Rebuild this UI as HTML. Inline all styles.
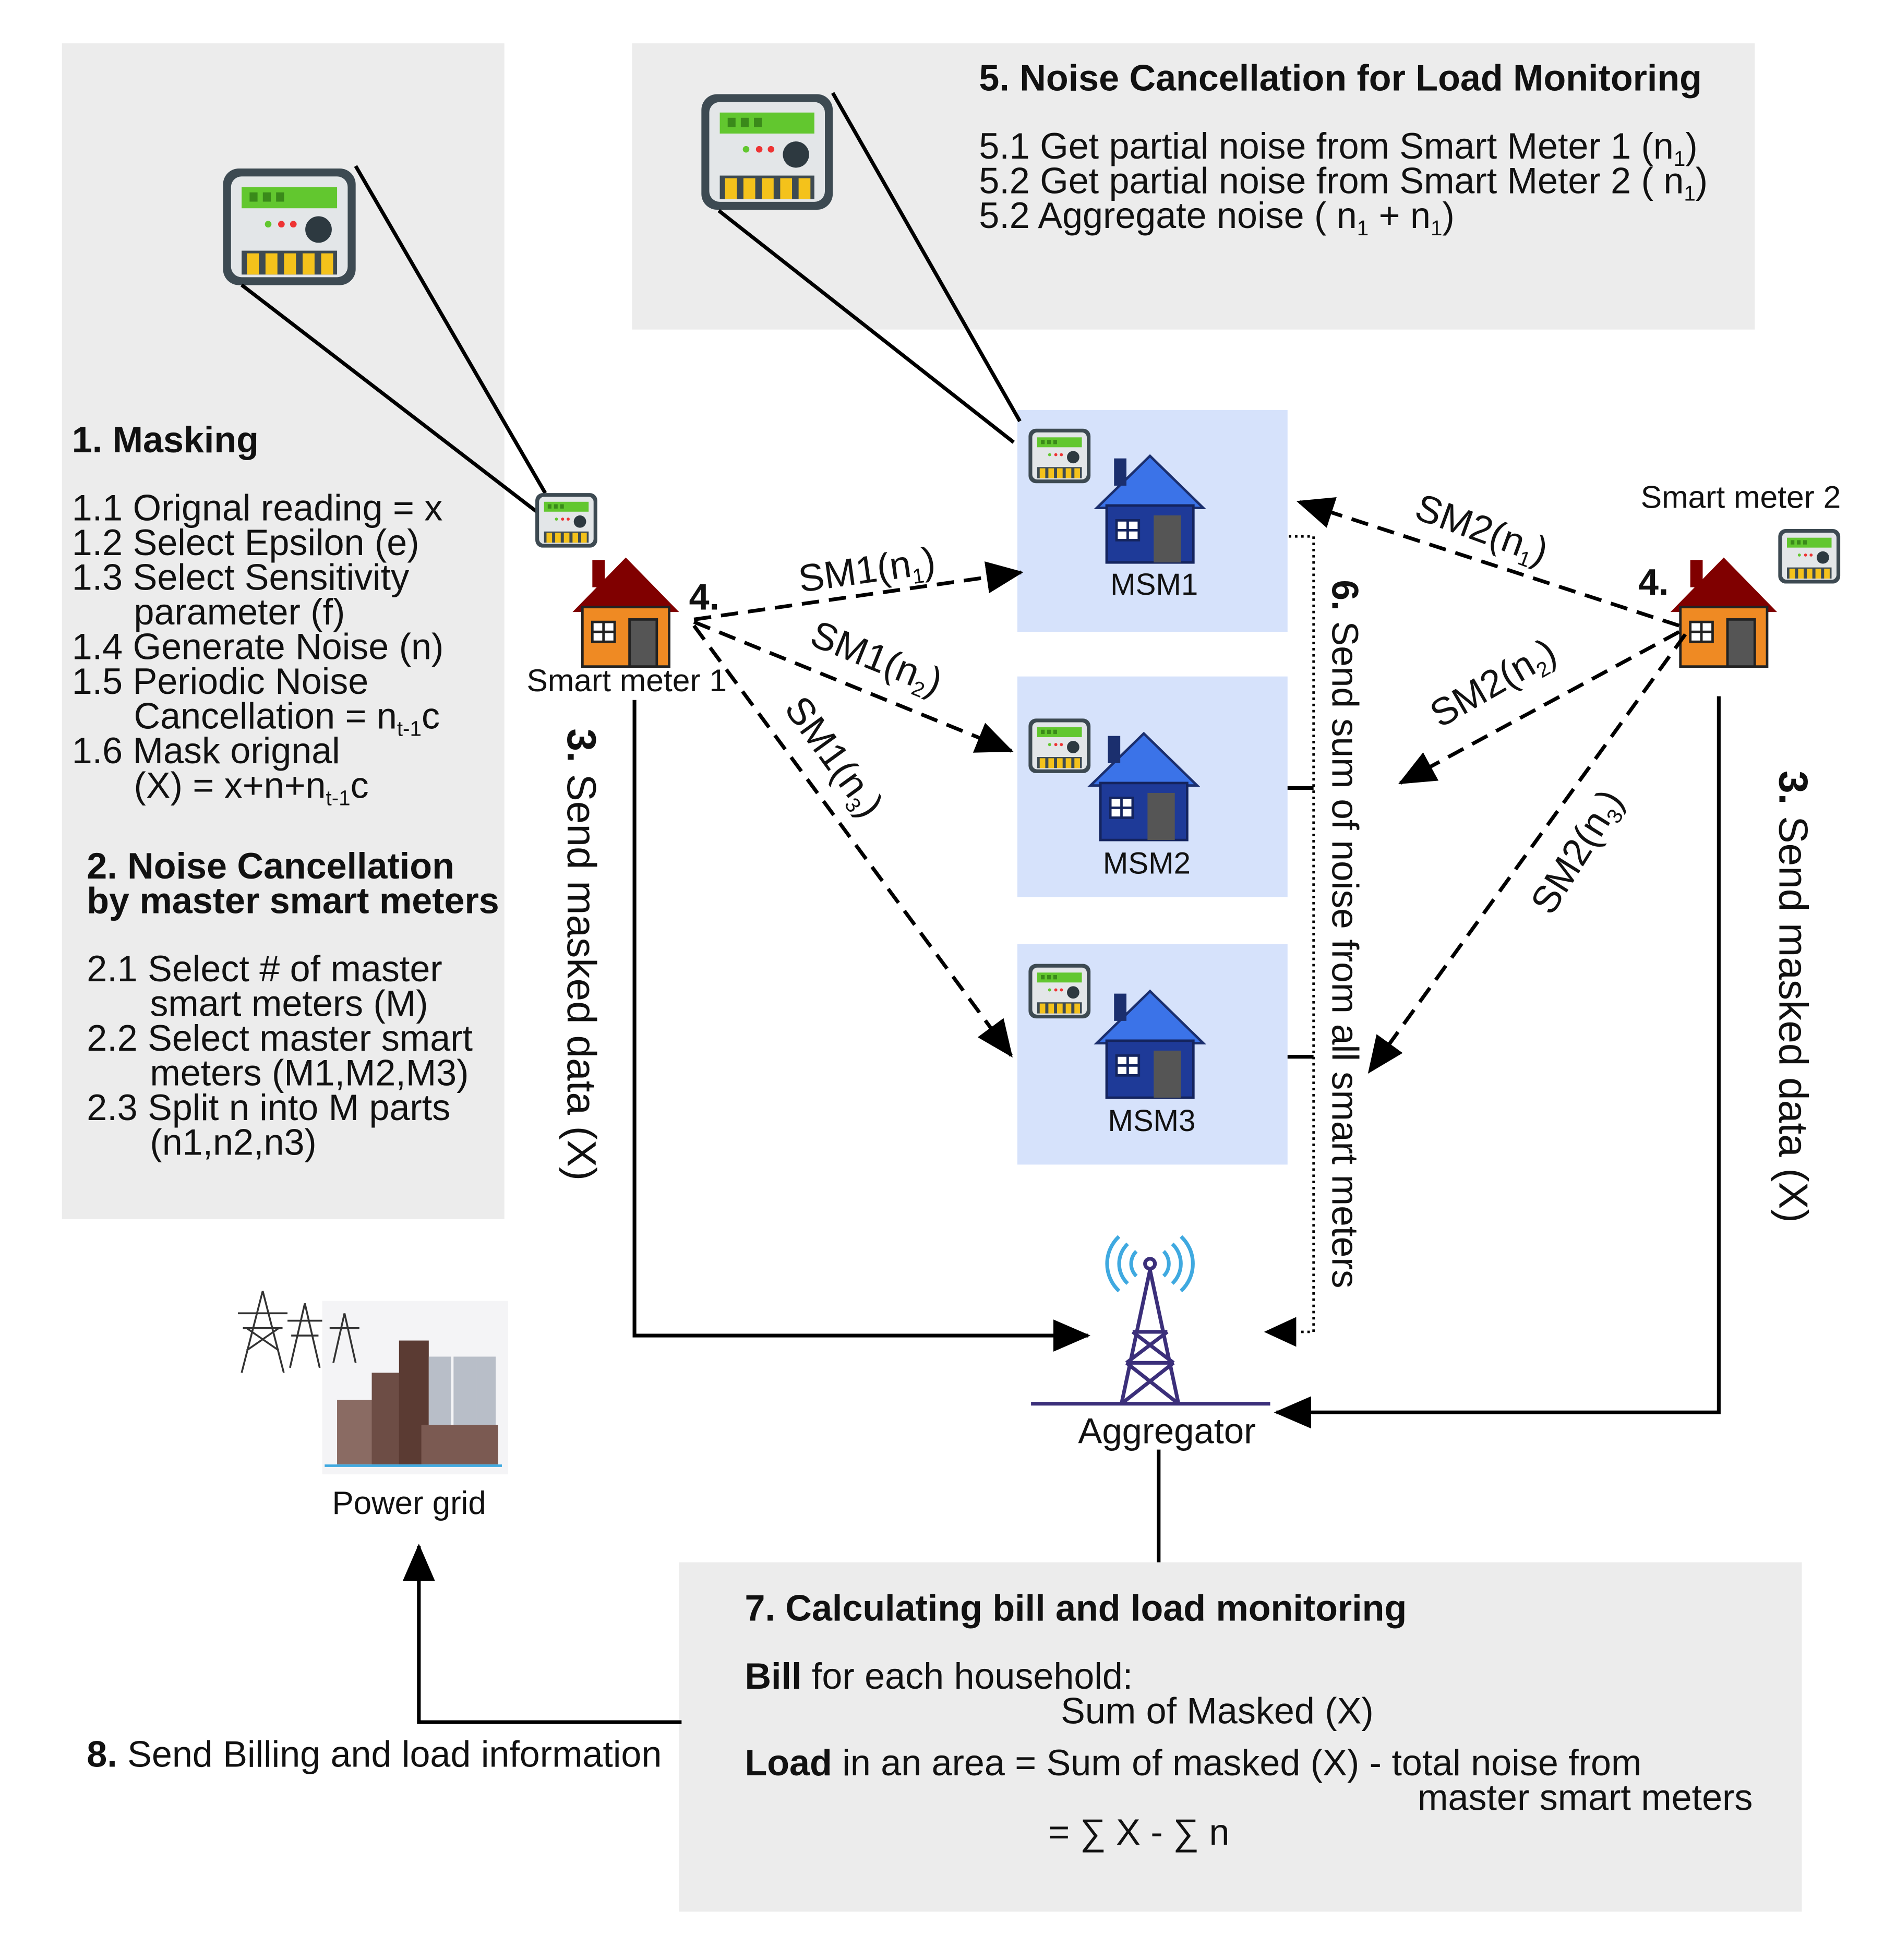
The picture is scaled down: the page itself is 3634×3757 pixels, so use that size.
<!DOCTYPE html>
<html><head><meta charset="utf-8"><style>
html,body{margin:0;padding:0;background:#fff;}
svg{display:block;}
text{font-family:"Liberation Sans",sans-serif;fill:#111;}
.t{font-size:29.5px;}
.b{font-weight:bold;}
</style></head><body>
<svg width="3634" height="3757" viewBox="0 0 1530 1582" preserveAspectRatio="none" xmlns="http://www.w3.org/2000/svg">
<defs>
<marker id="ahb" markerWidth="30" markerHeight="26" refX="28" refY="13" orient="auto" markerUnits="userSpaceOnUse">
<path d="M0,0 L30,13 L0,26 z" fill="#000"/></marker>
<g id="meter">
<rect x="0" y="0" width="100" height="88" rx="12" fill="#3d4a52"/>
<rect x="6" y="6" width="88" height="76" rx="8" fill="#e3e6e8"/>
<rect x="14" y="14" width="72" height="16" fill="#62c72f"/>
<rect x="20" y="18" width="6" height="7" fill="#3a8a1a"/><rect x="30" y="18" width="6" height="7" fill="#3a8a1a"/><rect x="40" y="18" width="6" height="7" fill="#3a8a1a"/>
<circle cx="34" cy="42" r="2.5" fill="#62c72f"/><circle cx="44" cy="42" r="2.5" fill="#e33"/><circle cx="53" cy="42" r="2.5" fill="#e33"/>
<circle cx="72" cy="46" r="10" fill="#2d3940"/>
<rect x="14" y="62" width="72" height="18" fill="#3d4a52"/>
<rect x="18" y="64" width="9" height="16" fill="#f4c21b"/><rect x="32" y="64" width="9" height="16" fill="#f4c21b"/><rect x="46" y="64" width="9" height="16" fill="#f4c21b"/><rect x="60" y="64" width="9" height="16" fill="#f4c21b"/><rect x="74" y="64" width="9" height="16" fill="#f4c21b"/>
</g>
<g id="house">
<path d="M0,44 L43,0 L86,44 Z" fill="#800000"/>
<rect x="16" y="2" width="10" height="22" fill="#800000"/>
<rect x="8" y="40" width="70" height="48" fill="#ef8a23" stroke="#222" stroke-width="2"/>
<rect x="46" y="50" width="22" height="38" fill="#555" stroke="#222" stroke-width="2"/>
<rect x="16" y="52" width="18" height="16" fill="#fff" stroke="#222" stroke-width="2"/>
<path d="M25,52 V68 M16,60 H34" stroke="#222" stroke-width="2"/>
</g>
<g id="bhouse">
<path d="M0,42 L43,0 L86,42 Z" fill="#3b73e8" stroke="#1b2f6e" stroke-width="2"/>
<rect x="14" y="2" width="10" height="22" fill="#1b2f6e"/>
<rect x="8" y="40" width="70" height="46" fill="#1e3a98" stroke="#14245e" stroke-width="2"/>
<rect x="46" y="48" width="22" height="38" fill="#555"/>
<rect x="16" y="52" width="18" height="16" fill="#fff" stroke="#14245e" stroke-width="2"/>
<path d="M25,52 V68 M16,60 H34" stroke="#14245e" stroke-width="2"/>
</g>
</defs>

<rect x="50" y="35" width="357" height="949" fill="#ececec"/>
<rect x="510" y="35" width="906" height="231" fill="#ececec"/>
<rect x="548" y="1261" width="906" height="282" fill="#ececec"/>
<rect x="821" y="331" width="218" height="179" fill="#d6e2fb"/>
<rect x="821" y="546" width="218" height="178" fill="#d6e2fb"/>
<rect x="821" y="762" width="218" height="178" fill="#d6e2fb"/>

<use href="#meter" x="180" y="136" transform="translate(180,136) scale(1.07) translate(-180,-136)"/>
<use href="#meter" x="566" y="76" transform="translate(566,76) scale(1.06) translate(-566,-76)"/>
<g stroke="#000" stroke-width="3">
<line x1="195" y1="230" x2="437" y2="416"/><line x1="287" y1="134" x2="440" y2="398"/>
<line x1="580" y1="170" x2="818" y2="357"/><line x1="672" y1="75" x2="823" y2="340"/>
</g>
<g transform="translate(432,398) scale(0.5)"><use href="#meter"/></g>
<g transform="translate(830,346) scale(0.5)"><use href="#meter"/></g>
<g transform="translate(830,580) scale(0.5)"><use href="#meter"/></g>
<g transform="translate(830,778) scale(0.5)"><use href="#meter"/></g>
<g transform="translate(1435,427) scale(0.5)"><use href="#meter"/></g>

<use href="#house" x="462" y="450"/>
<use href="#house" x="1348" y="450"/>
<use href="#bhouse" x="885" y="368"/>
<use href="#bhouse" x="880" y="592"/>
<use href="#bhouse" x="885" y="800"/>
<text x="896" y="480" style="font-size:24.5px">MSM1</text>
<text x="890" y="705" style="font-size:24.5px">MSM2</text>
<text x="894" y="913" style="font-size:24.5px">MSM3</text>
<text x="425" y="558" style="font-size:25.5px">Smart meter 1</text>
<text x="1324" y="410" style="font-size:25.5px">Smart meter 2</text>
<text class="t b" x="556" y="492">4.</text>
<text class="t b" x="1322" y="480">4.</text>

<g stroke="#000" stroke-width="3" fill="none" stroke-dasharray="14,8">
<line x1="560" y1="500" x2="824" y2="462" marker-end="url(#ahb)"/>
<line x1="560" y1="502" x2="816" y2="606" marker-end="url(#ahb)"/>
<line x1="560" y1="505" x2="816" y2="852" marker-end="url(#ahb)"/>
<line x1="1355" y1="505" x2="1048" y2="405" marker-end="url(#ahb)"/>
<line x1="1355" y1="510" x2="1130" y2="632" marker-end="url(#ahb)"/>
<line x1="1360" y1="512" x2="1105" y2="865" marker-end="url(#ahb)"/>
</g>
<g style="font-size:31px">
<text transform="translate(646,478) rotate(-8)">SM1(n<tspan font-size="17" dy="6">1</tspan><tspan dy="-6">)</tspan></text>
<text transform="translate(652,520) rotate(22)">SM1(n<tspan font-size="17" dy="6">2</tspan><tspan dy="-6">)</tspan></text>
<text transform="translate(632,572) rotate(54)">SM1(n<tspan font-size="17" dy="6">3</tspan><tspan dy="-6">)</tspan></text>
<text transform="translate(1140,418) rotate(20)">SM2(n<tspan font-size="17" dy="6">1</tspan><tspan dy="-6">)</tspan></text>
<text transform="translate(1162,588) rotate(-30)">SM2(n<tspan font-size="17" dy="6">2</tspan><tspan dy="-6">)</tspan></text>
<text transform="translate(1252,740) rotate(-58)">SM2(n<tspan font-size="17" dy="6">3</tspan><tspan dy="-6">)</tspan></text>
</g>

<g stroke="#000" stroke-width="3" fill="none">
<polyline points="512,565 512,1078 878,1078" marker-end="url(#ahb)"/>
<polyline points="1387,562 1387,1140 1030,1140" marker-end="url(#ahb)"/>
<line x1="1039" y1="636" x2="1060" y2="636"/>
<line x1="1039" y1="853" x2="1060" y2="853"/>
<line x1="935" y1="1170" x2="935" y2="1261"/>
<polyline points="550,1390 338,1390 338,1248" marker-end="url(#ahb)"/>
</g>
<g stroke="#000" stroke-width="2" fill="none" stroke-dasharray="2,3">
<polyline points="1040,433 1060,433 1060,1075 1050,1075"/>
</g>
<path d="M1020,1075 L1046,1063 L1046,1087 Z" fill="#000"/>

<g stroke="#3b2f7a" stroke-width="3" fill="none">
<line x1="832" y1="1133" x2="1025" y2="1133"/>
<path d="M928,1025 L905,1133 M928,1025 L951,1133 M914,1075 L942,1075 M909,1100 L947,1100 M914,1075 L947,1100 M942,1075 L909,1100 M909,1100 L951,1133 M947,1100 L905,1133"/>
<circle cx="928" cy="1020" r="4"/>
</g>
<g stroke="#3fa9e0" stroke-width="3" fill="none">
<path d="M917,1010 a14,14 0 0 0 0,20 M939,1010 a14,14 0 0 1 0,20 M910,1004 a22,22 0 0 0 0,32 M946,1004 a22,22 0 0 1 0,32 M903,998 a30,30 0 0 0 0,44 M953,998 a30,30 0 0 1 0,44"/>
</g>
<text x="870" y="1165" style="font-size:29px">Aggregator</text>

<rect x="260" y="1050" width="150" height="140" fill="#f4f4f6"/>
<g stroke="#333" stroke-width="1.5" fill="none">
<path d="M212,1042 L195,1108 M212,1042 L229,1108 M192,1060 H232 M196,1072 H228 M199,1090 L225,1072 M199,1072 L225,1090"/>
<path d="M246,1052 L234,1104 M246,1052 L258,1104 M232,1066 H260 M235,1078 H257"/>
<path d="M278,1060 L269,1100 M278,1060 L287,1100 M266,1072 H290"/>
</g>
<rect x="272" y="1130" width="50" height="52" fill="#8a6b63"/>
<rect x="300" y="1108" width="30" height="74" fill="#6d4d45"/>
<rect x="322" y="1082" width="24" height="100" fill="#5b3b33"/>
<rect x="346" y="1095" width="18" height="65" fill="#b8bec8"/><rect x="366" y="1095" width="18" height="65" fill="#b8bec8"/><rect x="384" y="1095" width="16" height="65" fill="#b8bec8"/>
<rect x="340" y="1150" width="62" height="32" fill="#7b5a52"/>
<line x1="262" y1="1183" x2="405" y2="1183" stroke="#3fa9e0" stroke-width="2"/>
<text x="268" y="1222" style="font-size:26px">Power grid</text>

<text class="t b" x="58" y="365">1. Masking</text>
<text class="t" x="58" y="420">1.1 Orignal reading = x</text>
<text class="t" x="58" y="448">1.2 Select Epsilon (e)</text>
<text class="t" x="58" y="476">1.3 Select Sensitivity</text>
<text class="t" x="108" y="504">parameter (f)</text>
<text class="t" x="58" y="532">1.4 Generate Noise (n)</text>
<text class="t" x="58" y="560">1.5 Periodic Noise</text>
<text class="t" x="108" y="588">Cancellation = n<tspan font-size="17" dy="6">t-1</tspan><tspan dy="-6">c</tspan></text>
<text class="t" x="58" y="616">1.6 Mask orignal</text>
<text class="t" x="108" y="644">(X) =  x+n+n<tspan font-size="17" dy="6">t-1</tspan><tspan dy="-6">c</tspan></text>
<text class="t b" x="70" y="709">2. Noise Cancellation</text>
<text class="t b" x="70" y="737">by master smart meters</text>
<text class="t" x="70" y="792">2.1 Select # of master</text>
<text class="t" x="121" y="820">smart meters (M)</text>
<text class="t" x="70" y="848">2.2 Select master smart</text>
<text class="t" x="121" y="876">meters (M1,M2,M3)</text>
<text class="t" x="70" y="904">2.3 Split n into M parts</text>
<text class="t" x="121" y="932">(n1,n2,n3)</text>

<text class="t b" x="790" y="73">5. Noise Cancellation for Load Monitoring</text>
<text class="t" x="790" y="128">5.1 Get partial noise from Smart Meter 1 (n<tspan font-size="17" dy="6">1</tspan><tspan dy="-6">)</tspan></text>
<text class="t" x="790" y="156">5.2 Get partial noise from Smart Meter 2 ( n<tspan font-size="17" dy="6">1</tspan><tspan dy="-6">)</tspan></text>
<text class="t" x="790" y="184">5.2 Aggregate noise ( n<tspan font-size="17" dy="6">1</tspan><tspan dy="-6"> + n</tspan><tspan font-size="17" dy="6">1</tspan><tspan dy="-6">)</tspan></text>

<text transform="translate(458,588) rotate(90)" style="font-size:33px"><tspan font-weight="bold">3.</tspan> Send masked data (X)</text>
<text transform="translate(1436,622) rotate(90)" style="font-size:33px"><tspan font-weight="bold">3.</tspan> Send masked data (X)</text>
<text transform="translate(1075,468) rotate(90)" style="font-size:30px"><tspan font-weight="bold">6.</tspan> Send sum of noise from all smart meters</text>

<text class="t b" x="601" y="1308">7. Calculating bill and load monitoring</text>
<text class="t" x="601" y="1363"><tspan font-weight="bold">Bill</tspan> for each household:</text>
<text class="t" x="856" y="1391">Sum of Masked (X)</text>
<text class="t" x="601" y="1433"><tspan font-weight="bold">Load</tspan> in an area = Sum of masked (X) - total noise from</text>
<text class="t" x="1144" y="1461">master smart meters</text>
<text class="t" x="846" y="1489">= ∑ X - ∑ n</text>
<text class="t" x="70" y="1426"><tspan font-weight="bold">8.</tspan> Send Billing and load information</text>
</svg>
</body></html>
